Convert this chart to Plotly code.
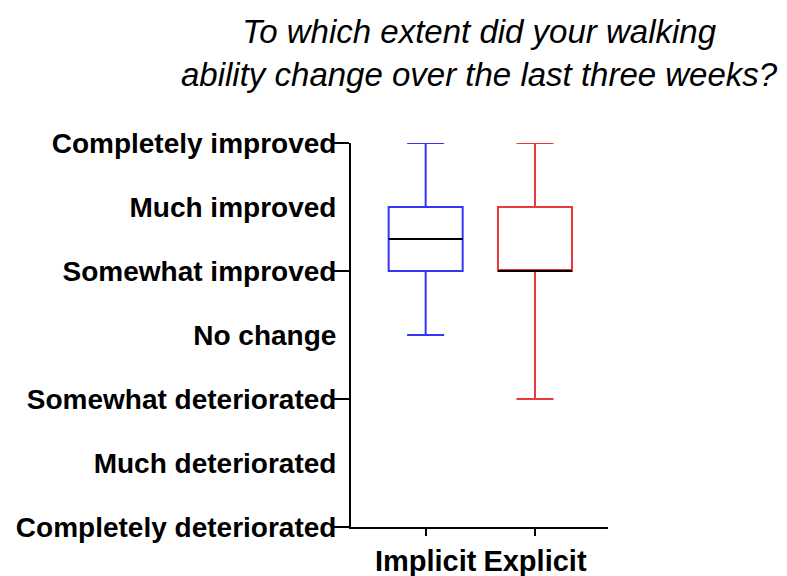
import plotly.graph_objects as go

# Data
groups = ["Implicit", "Explicit"]
positions = [0, 1]
q1 = [5, 5]
median = [5.5, 5]
q3 = [6, 6]
lowerfence = [4, 3]
upperfence = [7, 7]
colors = ["#3535f5", "#e83a3a"]

levels = [1, 2, 3, 4, 5, 6, 7]
level_labels = ["Completely deteriorated", "Much deteriorated", "Somewhat deteriorated",
                "No change", "Somewhat improved", "Much improved", "Completely improved"]
major_levels = [1, 3, 5, 7]

title_text = "To which extent did your walking<br>ability change over the last three weeks?"

box_width = 0.677

fig = go.Figure()
for i in range(len(groups)):
    fig.add_trace(go.Box(
        x=[positions[i]], q1=[q1[i]], median=[median[i]], q3=[q3[i]],
        lowerfence=[lowerfence[i]], upperfence=[upperfence[i]],
        width=box_width, whiskerwidth=0.5,
        line=dict(color=colors[i], width=2), fillcolor="rgba(0,0,0,0)",
        boxpoints=False, name=groups[i], showlegend=False, hoverinfo="skip",
    ))
    # black median line
    fig.add_trace(go.Scatter(
        x=[positions[i] - box_width / 2, positions[i] + box_width / 2],
        y=[median[i], median[i]], mode="lines",
        line=dict(color="black", width=2), showlegend=False, hoverinfo="skip",
    ))

FONT = "Liberation Sans, Arial, sans-serif"

fig.add_annotation(
    text="<i>" + title_text + "</i>",
    xref="paper", yref="paper", x=0.5, y=1.125,
    xanchor="center", yanchor="bottom", showarrow=False,
    font=dict(size=33, color="black", family=FONT),
)

fig.update_layout(
    width=779, height=568,
    margin=dict(l=343, r=179, t=135, b=49, autoexpand=False),
    paper_bgcolor="white", plot_bgcolor="white",
    font=dict(family=FONT, color="black"),
    xaxis=dict(
        range=[-0.683, 1.668], tickvals=positions, ticktext=groups,
        ticks="outside", ticklen=7, tickwidth=2, tickcolor="black",
        showline=True, linecolor="black", linewidth=2,
        showgrid=False, zeroline=False, automargin=False,
        tickfont=dict(size=29, family=FONT, weight="bold"),
    ),
    yaxis=dict(
        range=[1, 7], tickvals=levels, ticktext=level_labels,
        ticks="outside", ticklen=7, tickwidth=2, tickcolor="rgba(0,0,0,0)",
        minor=dict(tickvals=major_levels, ticks="outside", ticklen=15, tickwidth=2, tickcolor="black"),
        showline=True, linecolor="black", linewidth=2,
        showgrid=False, zeroline=False, automargin=False,
        tickfont=dict(size=28, family=FONT, weight="bold"),
    ),
)

fig.write_html("out.html")
